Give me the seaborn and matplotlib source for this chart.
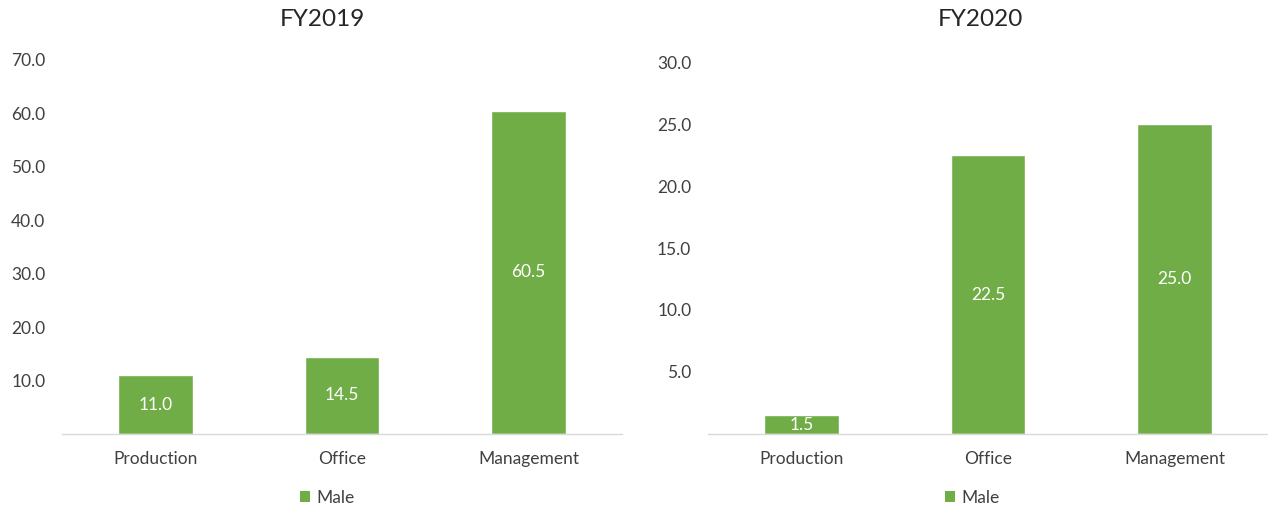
import matplotlib
matplotlib.use("Agg")
import matplotlib.pyplot as plt
import seaborn as sns
import pandas as pd
from matplotlib.patches import Patch

categories = ["Production", "Office", "Management"]
male_fy2019 = [11.0, 14.5, 60.5]
male_fy2020 = [1.5, 22.5, 25.0]
titles = ["FY2019", "FY2020"]
yticks_2019 = [10, 20, 30, 40, 50, 60, 70]
yticks_2020 = [5, 10, 15, 20, 25, 30]
series_name = "Male"

sns.set_theme(style="white")
plt.rcParams["font.family"] = ["Lato", "DejaVu Sans"]

GREEN = "#70AD47"
TXT = "#404040"
W, H = 1268, 507

fig = plt.figure(figsize=(12.68, 5.07), dpi=100)
ax1 = fig.add_axes([62/W, 1 - 434/H, 560/W, (434 - 60)/H])
ax2 = fig.add_axes([708/W, 1 - 434/H, 560/W, (434 - 62)/H])

panels = [
    (ax1, male_fy2019, yticks_2019, titles[0], 322, 327),
    (ax2, male_fy2020, yticks_2020, titles[1], 980, 972),
]

for ax, vals, ticks, title, tx, lx in panels:
    df = pd.DataFrame({"Category": categories, "Value": vals})
    sns.barplot(data=df, x="Category", y="Value", color=GREEN, saturation=1,
                width=0.4, ax=ax, errorbar=None)
    ax.set_ylim(0, ticks[-1])
    ax.set_xlim(-0.5, 2.5)
    ax.set_yticks(ticks)
    ax.set_yticklabels([f"{t:.1f}" for t in ticks])
    ax.set_xlabel("")
    ax.set_ylabel("")
    for s in ["top", "right", "left"]:
        ax.spines[s].set_visible(False)
    ax.spines["bottom"].set_color("#D9D9D9")
    ax.spines["bottom"].set_linewidth(1.0)
    ax.tick_params(axis="y", length=0, labelsize=12.5, labelcolor=TXT, pad=12)
    ax.tick_params(axis="x", length=0, labelsize=12.5, labelcolor=TXT, pad=12)
    fig.text(tx / W, 1 - 20 / H, title, ha="center", va="center",
             fontsize=17.5, color="#262626")
    for c in ax.containers:
        labels = [f"{v:.1f}" for v in c.datavalues]
        ax.bar_label(c, labels=labels, label_type="center", color="white",
                     fontsize=12.5)
    fig.legend(handles=[Patch(facecolor=GREEN, edgecolor="none", label=series_name)],
               loc="center", bbox_to_anchor=(lx / W, 1 - 498 / H), frameon=False,
               fontsize=12.5, handlelength=0.6, handleheight=0.6,
               handletextpad=0.35, labelcolor=TXT, borderpad=0.1)

fig.savefig("out.png", dpi=100)
